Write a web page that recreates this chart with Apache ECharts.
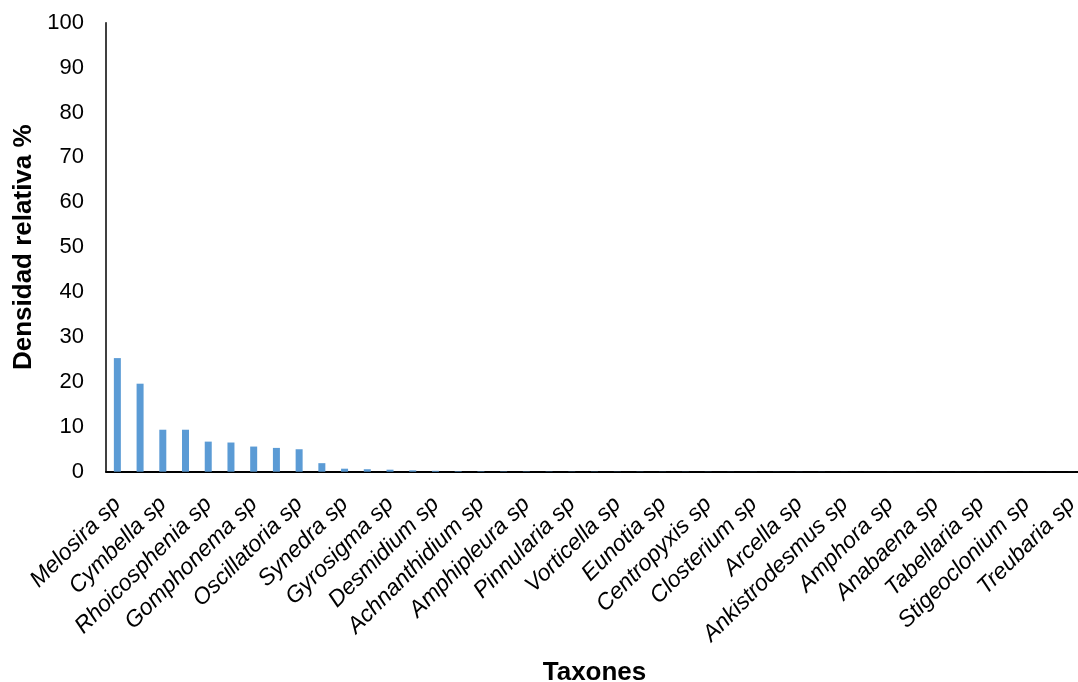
<!DOCTYPE html>
<html>
<head>
<meta charset="utf-8">
<style>
  html, body { margin: 0; padding: 0; background: #ffffff; overflow: hidden; }
  #chart { width: 1078px; height: 682px; }
</style>
<script src="https://cdn.jsdelivr.net/npm/echarts@6/dist/echarts.min.js"></script>
</head>
<body>
<div id="chart"></div>
<script>
// Labelled taxa (every other category carries a visible label in the original)
var labelledTaxa = [
  "Melosira sp", "Cymbella sp", "Rhoicosphenia sp", "Gomphonema sp", "Oscillatoria sp",
  "Synedra sp", "Gyrosigma sp", "Desmidium sp", "Achnanthidium sp", "Amphipleura sp",
  "Pinnularia sp", "Vorticella sp", "Eunotia sp", "Centropyxis sp", "Closterium sp",
  "Arcella sp", "Ankistrodesmus sp", "Amphora sp", "Anabaena sp", "Tabellaria sp",
  "Stigeoclonium sp", "Treubaria sp"
];
// Categories: 43 taxa; unlabeled ones in between are kept as unnamed slots
var categories = [];
for (var i = 0; i < labelledTaxa.length; i++) {
  categories.push(labelledTaxa[i]);
  if (i < labelledTaxa.length - 1) categories.push("taxón sin etiqueta " + (i + 1));
}
// Relative density (%)
var densidad = [
  25.3, 19.6, 9.35, 9.35, 6.7, 6.5, 5.6, 5.3, 5.0, 1.9,
  0.67, 0.55, 0.45, 0.3, 0.2, 0.12, 0.1, 0.08, 0.07, 0.06,
  0.05, 0.05, 0.04, 0.04, 0.03, 0.03, 0.03, 0.02, 0.02, 0.02,
  0.02, 0.02, 0.01, 0.01, 0.01, 0.01, 0.01, 0.01, 0.01, 0.01,
  0.01, 0.01, 0.01
];
var yTicks = { min: 0, max: 100, interval: 10 };

var FONT = '"Liberation Sans", Arial, sans-serif';
var chart = echarts.init(document.getElementById('chart'));
chart.setOption({
  animation: false,
  backgroundColor: '#ffffff',
  grid: {
    left: 106, right: -5, top: 22.7, bottom: 210.3,
    containLabel: false,
    outerBoundsMode: 'none'
  },
  xAxis: {
    type: 'category',
    data: categories,
    boundaryGap: true,
    axisLine: { show: true, lineStyle: { color: '#000000', width: 2 } },
    axisTick: { show: false },
    axisLabel: {
      interval: 1,
      rotate: 45,
      margin: 29,
      fontFamily: FONT,
      fontSize: 23,
      fontStyle: 'italic',
      color: '#000000',
      hideOverlap: false
    },
    name: 'Taxones',
    nameLocation: 'middle',
    nameGap: 188,
    nameTextStyle: { fontFamily: FONT, fontSize: 26, fontWeight: 'bold', color: '#000000' }
  },
  yAxis: {
    type: 'value',
    min: yTicks.min,
    max: yTicks.max,
    interval: yTicks.interval,
    splitLine: { show: false },
    axisLine: { show: true, lineStyle: { color: '#000000', width: 1.5 } },
    axisTick: { show: false },
    axisLabel: { margin: 22, fontFamily: FONT, fontSize: 22, color: '#000000' },
    name: 'Densidad relativa %',
    nameLocation: 'middle',
    nameRotate: 90,
    nameGap: 69,
    nameTextStyle: { fontFamily: FONT, fontSize: 26, fontWeight: 'bold', color: '#000000' }
  },
  series: [{
    type: 'bar',
    data: densidad,
    barWidth: 7,
    itemStyle: { color: '#5B9BD5' }
  }]
});
</script>
</body>
</html>
